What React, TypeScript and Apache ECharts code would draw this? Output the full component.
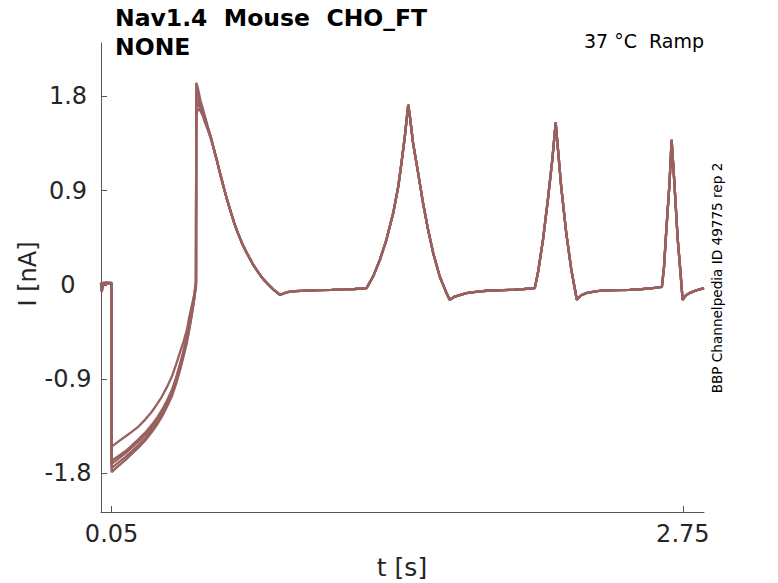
import React, { useEffect, useRef } from "react";
import * as echarts from "echarts";

// Tick values
const xTickValues = [0.05, 2.75];
const yTickValues = [-1.8, -0.9, 0, 0.9, 1.8];

// Holding period before the step (s)
const tPre = [0, 0.003, 0.006, 0.01, 0.02, 0.03, 0.04, 0.0499];
// First ramp segment after the step (s)
const tRamp = [0.0501, 0.08, 0.115, 0.145, 0.177, 0.21, 0.241, 0.265, 0.288, 0.312, 0.335, 0.355, 0.374, 0.39, 0.406, 0.418, 0.429, 0.44, 0.449];
// Big transient after the jump (s)
const tPeak = [0.4501, 0.455, 0.46, 0.47, 0.48, 0.49, 0.505, 0.52];

// Per-repetition currents (nA)
const pre1 = [0.02, -0.05, -0.03, 0.01, 0.02, 0.01, 0.02, 0.01];
const pre2 = [0.01, -0.07, -0.04, 0.0, 0.02, 0.02, 0.01, 0.02];
const pre3 = [0.02, -0.04, -0.02, 0.02, 0.01, 0.02, 0.02, 0.01];
const pre4 = [0.0, -0.06, -0.05, 0.01, 0.02, 0.01, 0.02, 0.02];
const pre5 = [0.02, -0.03, -0.01, 0.02, 0.02, 0.02, 0.01, 0.02];

const ramp1 = [-1.545, -1.5, -1.449, -1.405, -1.354, -1.285, -1.21, -1.14, -1.067, -0.975, -0.876, -0.76, -0.64, -0.545, -0.43, -0.3, -0.2, -0.1, 0.03];
const ramp2 = [-1.79, -1.735, -1.675, -1.615, -1.555, -1.485, -1.405, -1.335, -1.26, -1.165, -1.065, -0.945, -0.81, -0.685, -0.55, -0.42, -0.29, -0.15, -0.01];
const ramp3 = [-1.75, -1.7, -1.645, -1.59, -1.53, -1.46, -1.385, -1.315, -1.24, -1.15, -1.05, -0.93, -0.795, -0.67, -0.535, -0.41, -0.28, -0.14, 0.0];
const ramp4 = [-1.71, -1.665, -1.61, -1.555, -1.495, -1.43, -1.355, -1.285, -1.21, -1.12, -1.02, -0.9, -0.765, -0.645, -0.51, -0.385, -0.255, -0.12, 0.01];
const ramp5 = [-1.68, -1.64, -1.59, -1.535, -1.475, -1.41, -1.335, -1.27, -1.195, -1.105, -1.005, -0.885, -0.75, -0.63, -0.495, -0.37, -0.245, -0.11, 0.02];

const peak1 = [1.7, 1.73, 1.72, 1.68, 1.63, 1.57, 1.49, 1.4];
const peak2 = [1.93, 1.9, 1.86, 1.76, 1.69, 1.62, 1.51, 1.41];
const peak3 = [1.85, 1.84, 1.81, 1.74, 1.67, 1.6, 1.5, 1.4];
const peak4 = [1.77, 1.78, 1.76, 1.7, 1.64, 1.58, 1.49, 1.4];
const peak5 = [1.6, 1.66, 1.68, 1.66, 1.62, 1.56, 1.48, 1.39];

// Shared remainder of the sweep (all repetitions overlap)
const tTail = [
  0.533, 0.547, 0.559, 0.571, 0.583, 0.595, 0.607, 0.618, 0.63, 0.642, 0.654, 0.665, 0.677, 0.689, 0.705, 0.72, 0.733, 0.745, 0.757, 0.769, 0.782, 0.795, 0.815, 0.832, 0.846,
  0.86, 0.88, 0.92, 0.97, 1.03, 1.09, 1.15, 1.2, 1.255,
  1.286, 1.318, 1.349, 1.381, 1.405, 1.42, 1.436, 1.452, 1.46, 1.475, 1.499, 1.522, 1.546, 1.57, 1.601, 1.633, 1.648, 1.672, 1.727, 1.78, 1.837, 1.9, 1.947, 2.0, 2.05,
  2.065, 2.089, 2.112, 2.133, 2.149, 2.16, 2.175, 2.199, 2.223, 2.249, 2.27, 2.293, 2.33, 2.372, 2.44, 2.498, 2.56, 2.608, 2.651,
  2.661, 2.671, 2.687, 2.697, 2.71, 2.726, 2.738, 2.749, 2.765, 2.781, 2.81, 2.85,
];
const iTail = [
  1.3, 1.194, 1.095, 1.0, 0.908, 0.82, 0.74, 0.665, 0.59, 0.52, 0.46, 0.405, 0.353, 0.305, 0.245, 0.19, 0.15, 0.115, 0.08, 0.05, 0.022, -0.005, -0.045, -0.073, -0.096,
  -0.085, -0.07, -0.06, -0.055, -0.05, -0.048, -0.044, -0.04, -0.032,
  0.079, 0.239, 0.43, 0.685, 0.939, 1.163, 1.417, 1.72, 1.608, 1.354, 1.067, 0.781, 0.525, 0.303, 0.079, -0.079, -0.143, -0.112, -0.079, -0.065, -0.054, -0.05, -0.048, -0.04, -0.032,
  0.112, 0.43, 0.812, 1.194, 1.551, 1.29, 0.939, 0.494, 0.143, -0.143, -0.1, -0.079, -0.065, -0.054, -0.05, -0.048, -0.04, -0.032, -0.02,
  0.17, 0.494, 0.971, 1.385, 0.971, 0.43, 0.14, -0.143, -0.1, -0.079, -0.055, -0.032,
];

const reps = [
  { pre: pre1, ramp: ramp1, peak: peak1 },
  { pre: pre2, ramp: ramp2, peak: peak2 },
  { pre: pre3, ramp: ramp3, peak: peak3 },
  { pre: pre4, ramp: ramp4, peak: peak4 },
  { pre: pre5, ramp: ramp5, peak: peak5 },
];

const FONT = "DejaVu Sans";
const TRACE = "#98605f";
const AXIS = "#555555";
const LABEL = "#262626";

function buildTrace(pre: number[], ramp: number[], peak: number[]) {
  const pts: number[][] = [];
  tPre.forEach((t, i) => pts.push([t, pre[i]]));
  tRamp.forEach((t, i) => pts.push([t, ramp[i]]));
  tPeak.forEach((t, i) => pts.push([t, peak[i]]));
  tTail.forEach((t, i) => pts.push([t, iTail[i]]));
  return pts;
}

export default function App() {
  const ref = useRef<HTMLDivElement>(null);
  useEffect(() => {
    document.body.style.margin = "0";
    if (!ref.current) return;
    const chart = echarts.init(ref.current, null, { renderer: "svg" });
    chart.setOption({
      animation: false,
      backgroundColor: "#ffffff",
      grid: { left: 101, right: 74, top: 43, bottom: 71, outerBoundsMode: "none" },
      xAxis: {
        type: "value",
        min: 0,
        max: 2.85,
        axisLine: { show: true, onZero: false, lineStyle: { color: AXIS, width: 1 } },
        axisTick: { show: true, inside: true, length: 6, customValues: xTickValues, lineStyle: { color: AXIS } },
        axisLabel: {
          customValues: xTickValues,
          formatter: (v: number) => String(v),
          fontSize: 24,
          fontFamily: FONT,
          color: LABEL,
          margin: 10,
        },
        splitLine: { show: false },
      },
      yAxis: {
        type: "value",
        min: -2.17,
        max: 2.31,
        axisLine: { show: true, onZero: false, lineStyle: { color: AXIS, width: 1 } },
        axisTick: { show: true, inside: true, length: 6, customValues: yTickValues, lineStyle: { color: AXIS } },
        axisLabel: {
          customValues: yTickValues,
          formatter: (v: number) => String(v),
          fontSize: 24,
          fontFamily: FONT,
          color: LABEL,
          align: "center",
          margin: 33,
        },
        splitLine: { show: false },
      },
      series: reps.map((r) => ({
        type: "line",
        data: buildTrace(r.pre, r.ramp, r.peak),
        showSymbol: false,
        lineStyle: { color: TRACE, width: 2.3 },
        itemStyle: { color: TRACE },
        silent: true,
      })),
      graphic: [
        {
          type: "text",
          x: 115,
          y: 18,
          style: { text: "Nav1.4  Mouse  CHO_FT", fontSize: 23.5, fontWeight: "bold", fontFamily: FONT, fill: "#000", align: "left", verticalAlign: "middle" },
        },
        {
          type: "text",
          x: 115,
          y: 47,
          style: { text: "NONE", fontSize: 23.5, fontWeight: "bold", fontFamily: FONT, fill: "#000", align: "left", verticalAlign: "middle" },
        },
        {
          type: "text",
          x: 704,
          y: 41,
          style: { text: "37 °C  Ramp", fontSize: 19, fontFamily: FONT, fill: "#000", align: "right", verticalAlign: "middle" },
        },
        {
          type: "text",
          x: 716.5,
          y: 278,
          rotation: Math.PI / 2,
          style: { text: "BBP Channelpedia ID 49775 rep 2", fontSize: 13.6, fontFamily: FONT, fill: "#000", align: "center", verticalAlign: "middle" },
        },
        {
          type: "text",
          x: 27.5,
          y: 274,
          rotation: Math.PI / 2,
          style: { text: "I [nA]", fontSize: 24, fontFamily: FONT, fill: LABEL, align: "center", verticalAlign: "middle" },
        },
        {
          type: "text",
          x: 402,
          y: 567,
          style: { text: "t [s]", fontSize: 25, fontFamily: FONT, fill: LABEL, align: "center", verticalAlign: "middle" },
        },
      ],
    });
    return () => chart.dispose();
  }, []);
  return <div ref={ref} style={{ width: 778, height: 583 }} />;
}
